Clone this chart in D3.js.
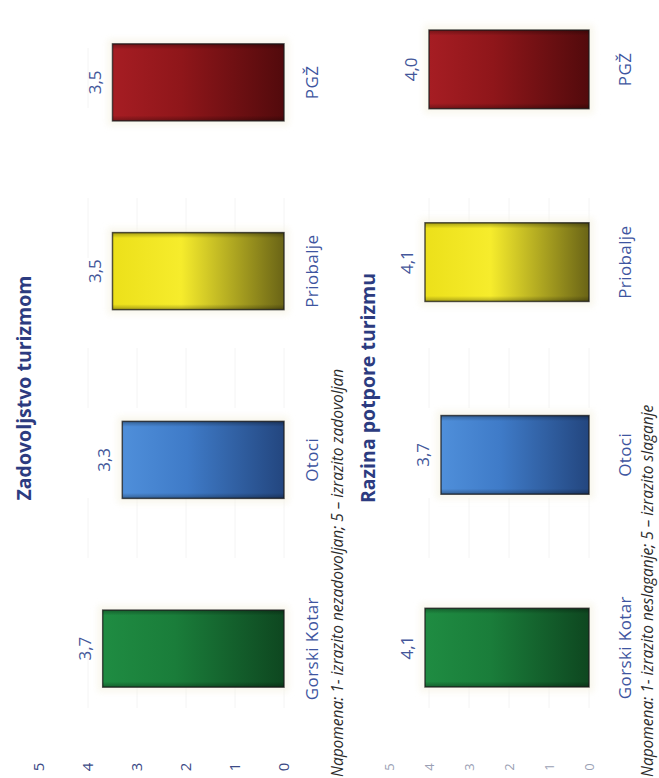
<!DOCTYPE html>
<html>
<head>
<meta charset="utf-8">
<script src="https://cdnjs.cloudflare.com/ajax/libs/d3/7.8.5/d3.min.js"></script>
<style>
  body { margin: 0; background: #fff; }
  svg { display: block; font-family: "Open Sans", sans-serif; }
</style>
</head>
<body>
<svg width="659" height="778"></svg>
<script>
// data
var categories = ["Gorski Kotar", "Otoci", "Priobalje", "PGŽ"];
var satisfaction = [3.7, 3.3, 3.5, 3.5];
var support = [4.1, 3.7, 4.1, 4.0];
var valueTicks = [0, 1, 2, 3, 4, 5];
var titles = ["Zadovoljstvo turizmom", "Razina potpore turizmu"];
var notes = [
	"Napomena: 1- izrazito nezadovoljan; 5 – izrazito zadovoljan",
	"Napomena: 1- izrazito neslaganje; 5 – izrazito slaganje"
];
var barColors = {
	"Gorski Kotar": ["#1f8c42", "#1a7d3a", "#0e4720"],
	"Otoci": ["#4f8fda", "#3f7bc8", "#23467f"],
	"Priobalje": ["#ece01a", "#f6ec2c", "#6a6416"],
	"PGŽ": ["#a61d23", "#8f161a", "#520a0c"]
};

var svg = d3.select("svg"),
width = +svg.attr("width"),
height = +svg.attr("height");

var locale = d3.formatLocale({ decimal: ",", thousands: ".", grouping: [3], currency: ["", ""] });
var fmt = locale.format(".1f");

var defs = svg.append("defs");

// gradient for every bar colour, running from bar top to the base
categories.forEach(function(c, i) {
	var gr = defs.append("linearGradient")
	.attr("id", "grad" + i)
	.attr("x1", 0).attr("y1", 0).attr("x2", 0).attr("y2", 1);
	gr.append("stop").attr("offset", "0%").attr("stop-color", barColors[c][0]);
	gr.append("stop").attr("offset", "40%").attr("stop-color", barColors[c][1]);
	gr.append("stop").attr("offset", "100%").attr("stop-color", barColors[c][2]);
});

// darker side edges
var side = defs.append("linearGradient").attr("id", "side")
.attr("x1", 0).attr("y1", 0).attr("x2", 1).attr("y2", 0);
side.append("stop").attr("offset", "0%").attr("stop-color", "#000").attr("stop-opacity", 0.3);
side.append("stop").attr("offset", "7%").attr("stop-color", "#000").attr("stop-opacity", 0);
side.append("stop").attr("offset", "93%").attr("stop-color", "#000").attr("stop-opacity", 0);
side.append("stop").attr("offset", "100%").attr("stop-color", "#000").attr("stop-opacity", 0.3);

defs.append("filter").attr("id", "blur")
.attr("x", "-20%").attr("y", "-20%").attr("width", "140%").attr("height", "140%")
.append("feGaussianBlur").attr("stdDeviation", 3);

// whole page is turned a quarter turn counter-clockwise
var g = svg.append("g")
.attr("transform", "translate(0," + height + ") rotate(-90)");

var charts = [
	{ values: satisfaction, title: titles[0], note: notes[0], uRange: [35, 790], vRange: [284, 39],
	  titleV: 31, catTop: 306, noteV: 343, tickColor: "#3b4a86", tickSize: 15 },
	{ values: support, title: titles[1], note: notes[1], uRange: [34, 805], vRange: [589, 389],
	  titleV: 375, catTop: 619, noteV: 653, tickColor: "#9aa0b4", tickSize: 13 }
];

charts.forEach(function(cfg) {

	var x = d3.scaleBand()
	.domain(categories)
	.range(cfg.uRange)
	.paddingInner(0.592)
	.paddingOuter(0.296);

	var y = d3.scaleLinear()
	.domain([0, 5])
	.range(cfg.vRange);

	var chart = g.append("g");

	// faint grid
	chart.append("g")
	.selectAll("line")
	.data(valueTicks.slice(0, 5))
	.enter().append("line")
	.attr("x1", 70).attr("x2", cfg.uRange[1] - 40)
	.attr("y1", function(d) { return y(d); })
	.attr("y2", function(d) { return y(d); })
	.attr("stroke", "#f4f4f4")
	.attr("stroke-dasharray", "60,90");

	// value axis
	var ya = chart.append("g")
	.attr("transform", "translate(11,0)")
	.call(d3.axisLeft(y).tickValues(valueTicks).tickFormat(d3.format("d")).tickSize(0).tickPadding(0));
	ya.select(".domain").remove();
	ya.selectAll("text")
	.attr("x", 0)
	.attr("text-anchor", "middle")
	.attr("font-family", "Open Sans")
	.attr("font-size", cfg.tickSize)
	.attr("fill", cfg.tickColor);

	var data = categories.map(function(c, i) { return { cat: c, value: cfg.values[i], idx: i }; });

	// halo
	chart.append("g")
	.selectAll("rect")
	.data(data)
	.enter().append("rect")
	.attr("x", function(d) { return x(d.cat) - 5; })
	.attr("y", function(d) { return y(d.value) - 5; })
	.attr("width", x.bandwidth() + 10)
	.attr("height", function(d) { return y(0) - y(d.value) + 10; })
	.attr("fill", "#f5f2e2")
	.attr("opacity", 0.6)
	.attr("filter", "url(#blur)");

	var bars = chart.append("g")
	.selectAll("g")
	.data(data)
	.enter().append("g");

	bars.append("rect")
	.attr("x", function(d) { return x(d.cat); })
	.attr("y", function(d) { return y(d.value); })
	.attr("width", x.bandwidth())
	.attr("height", function(d) { return y(0) - y(d.value); })
	.attr("fill", function(d) { return "url(#grad" + d.idx + ")"; })
	.attr("stroke", "#1c1c1c")
	.attr("stroke-opacity", 0.75)
	.attr("stroke-width", 1.5);

	bars.append("rect")
	.attr("x", function(d) { return x(d.cat); })
	.attr("y", function(d) { return y(d.value); })
	.attr("width", x.bandwidth())
	.attr("height", function(d) { return y(0) - y(d.value); })
	.attr("fill", "url(#side)");

	// value labels
	chart.append("g")
	.selectAll("text")
	.data(data)
	.enter().append("text")
	.attr("x", function(d) { return x(d.cat) + x.bandwidth() / 2; })
	.attr("y", function(d) { return y(d.value) - 12; })
	.attr("text-anchor", "middle")
	.attr("font-size", 17)
	.attr("fill", "#44579a")
	.text(function(d) { return fmt(d.value); });

	// category labels
	var xa = chart.append("g")
	.attr("transform", "translate(0," + cfg.catTop + ")")
	.call(d3.axisBottom(x).tickSize(0).tickPadding(0));
	xa.select(".domain").remove();
	xa.selectAll("text")
	.attr("font-family", "Open Sans")
	.attr("font-size", 17)
	.attr("letter-spacing", 0.4)
	.attr("fill", "#3e55a0");

	// title
	chart.append("text")
	.attr("x", 390)
	.attr("y", cfg.titleV)
	.attr("text-anchor", "middle")
	.attr("font-size", 19.5)
	.attr("font-weight", "bold")
	.attr("fill", "#2c3b80")
	.text(cfg.title);

	// note
	chart.append("text")
	.attr("x", 1)
	.attr("y", cfg.noteV)
	.attr("font-size", 15.5)
	.attr("font-style", "italic")
	.attr("fill", "#2b2b2b")
	.text(cfg.note);
});
</script>
</body>
</html>
